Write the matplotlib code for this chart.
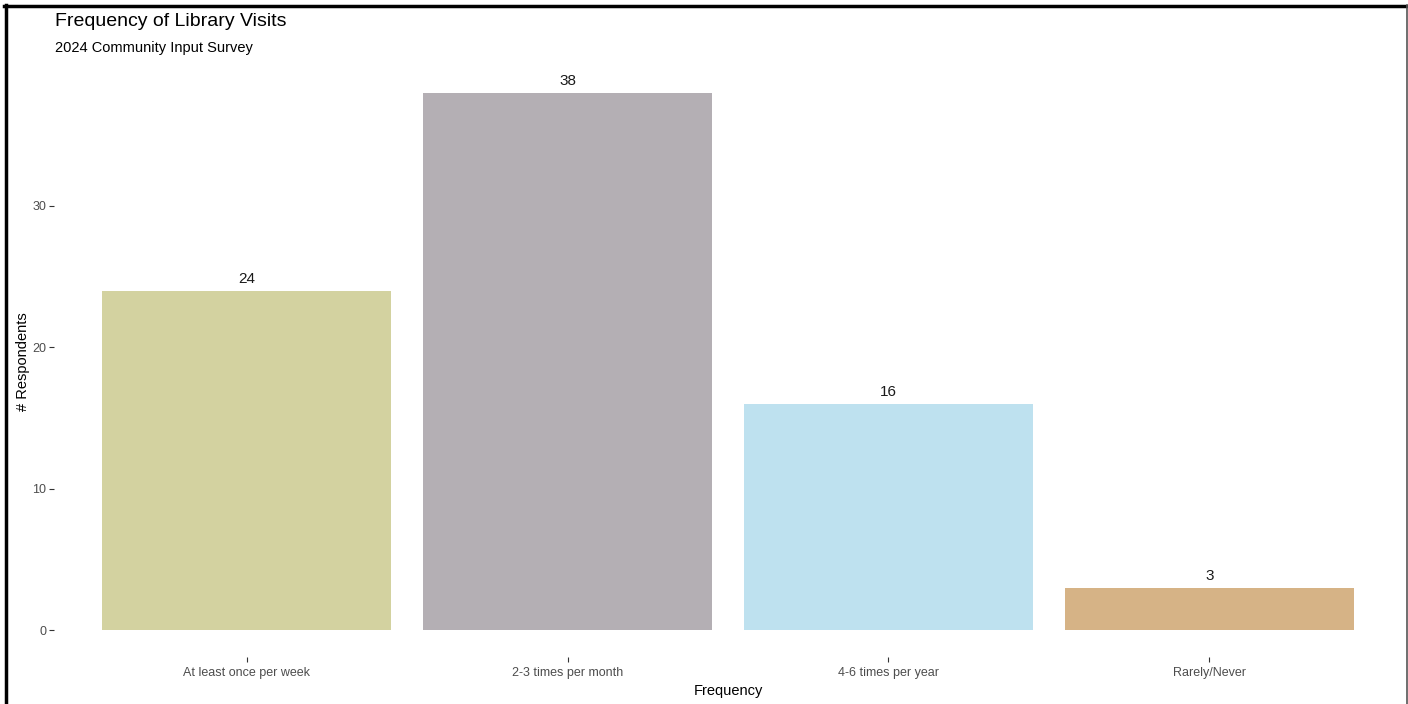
import matplotlib
matplotlib.use("Agg")
import matplotlib.pyplot as plt
from matplotlib.lines import Line2D

plt.rcParams["font.family"] = ["Liberation Sans", "DejaVu Sans"]

# data
categories = ["At least once per week", "2-3 times per month", "4-6 times per year", "Rarely/Never"]
respondents = [24, 38, 16, 3]
bar_colors = ["#D3D2A0", "#B4AFB4", "#BEE1EF", "#D6B386"]
y_ticks = [0, 10, 20, 30]

W, H = 1408, 704
fig = plt.figure(figsize=(W / 100, H / 100), dpi=100)

# panel placed like the ggplot original (pixel coords)
left, right, top, bottom = 54, 1402, 66, 657
ax = fig.add_axes([left / W, 1 - bottom / H, (right - left) / W, (bottom - top) / H])

x = range(1, len(categories) + 1)
ax.bar(x, respondents, width=0.9, color=bar_colors)
for xi, v in zip(x, respondents):
    ax.text(xi, v + 0.35, str(v), ha="center", va="bottom", fontsize=11, color="#1a1a1a")

ax.set_xlim(0.4, 4.6)
ax.set_ylim(-1.9, 39.9)
ax.set_xticks(list(x))
ax.set_xticklabels(categories)
ax.set_yticks(y_ticks)
ax.tick_params(axis="both", colors="#333333", labelcolor="#4D4D4D", labelsize=9,
               length=3.5, width=0.8)
ax.tick_params(axis="x", pad=4)
ax.tick_params(axis="y", pad=2)
for s in ax.spines.values():
    s.set_visible(False)

ax.set_xlabel("Frequency", fontsize=10.5, color="black", labelpad=3)
ax.set_ylabel("# Respondents", fontsize=10.5, color="black", labelpad=2)

fig.text(55 / W, 1 - 21 / H, "Frequency of Library Visits", fontsize=14, va="center", ha="left")
fig.text(55 / W, 1 - 48 / H, "2024 Community Input Survey", fontsize=10.5, va="center", ha="left")

# screenshot frame
fig.add_artist(Line2D([4 / W, 1], [1 - 5.5 / H, 1 - 5.5 / H], transform=fig.transFigure, color="black", lw=2.5))
fig.add_artist(Line2D([6 / W, 6 / W], [0, 1 - 5 / H], transform=fig.transFigure, color="black", lw=2.5))
fig.add_artist(Line2D([1406.5 / W, 1406.5 / W], [0, 1 - 5 / H], transform=fig.transFigure, color="#555555", lw=1.2))

fig.savefig("out.png", dpi=100)
